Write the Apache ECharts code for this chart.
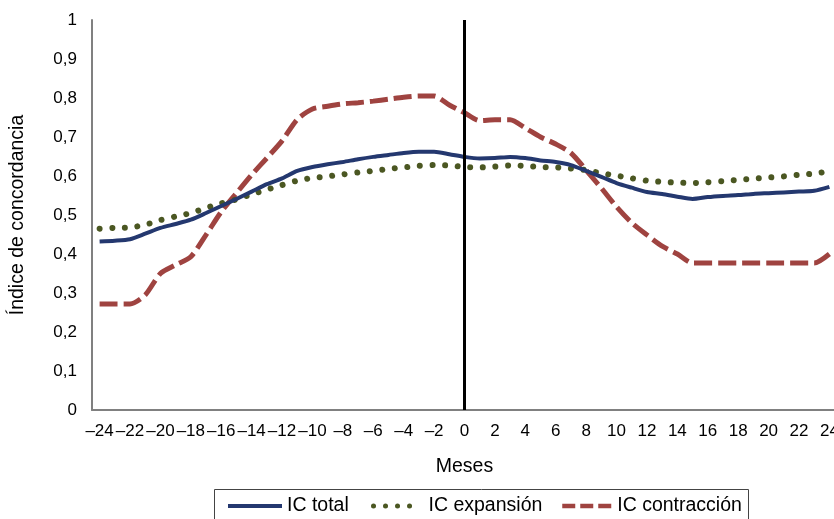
<!DOCTYPE html>
<html><head><meta charset="utf-8">
<script src="https://cdn.jsdelivr.net/npm/echarts@6/dist/echarts.min.js"></script>
<style>html,body{margin:0;padding:0;background:#fff}#c{width:834px;height:519px}</style>
</head><body><div id="c"></div>
<script>
const months = [-24,-23,-22,-21,-20,-19,-18,-17,-16,-15,-14,-13,-12,-11,-10,-9,-8,-7,-6,-5,-4,-3,-2,-1,0,1,2,3,4,5,6,7,8,9,10,11,12,13,14,15,16,17,18,19,20,21,22,23,24];
const icTotal = [0.432,0.434,0.438,0.452,0.467,0.477,0.488,0.505,0.523,0.541,0.560,0.579,0.594,0.613,0.623,0.630,0.636,0.643,0.649,0.654,0.659,0.662,0.662,0.656,0.649,0.645,0.646,0.649,0.646,0.640,0.636,0.628,0.613,0.598,0.582,0.570,0.559,0.554,0.547,0.541,0.546,0.549,0.551,0.554,0.556,0.558,0.560,0.562,0.572];
const icExpansion = [0.465,0.467,0.468,0.475,0.487,0.496,0.505,0.518,0.530,0.540,0.553,0.565,0.577,0.588,0.595,0.599,0.604,0.609,0.613,0.618,0.622,0.626,0.628,0.627,0.623,0.622,0.624,0.627,0.626,0.623,0.622,0.619,0.615,0.607,0.601,0.594,0.588,0.585,0.583,0.582,0.584,0.587,0.590,0.593,0.596,0.599,0.603,0.606,0.612];
const icContraction = [0.272,0.272,0.272,0.295,0.350,0.372,0.393,0.449,0.508,0.556,0.603,0.646,0.690,0.745,0.772,0.779,0.785,0.788,0.792,0.797,0.802,0.805,0.805,0.782,0.762,0.742,0.744,0.744,0.723,0.700,0.682,0.659,0.615,0.569,0.521,0.480,0.449,0.420,0.400,0.377,0.377,0.377,0.377,0.377,0.377,0.377,0.377,0.377,0.400];
const yTickLabels = ['0','0,1','0,2','0,3','0,4','0,5','0,6','0,7','0,8','0,9','1'];
const seriesNames = ['IC total','IC expansión','IC contracción'];

const fontFam = '"Liberation Sans", Arial, sans-serif';
const cats = months.map(m => m < 0 ? '\u2013' + Math.abs(m) : String(m));
const chart = echarts.init(document.getElementById('c'), null, {renderer:'canvas'});
const blue = '#24386f', green = '#4b5722', red = '#9f4340';
const legendText = {fontFamily: fontFam, fontSize: 19.5, color: '#000'};
const legendBase = {top: 496, itemHeight: 14, padding: 0, itemStyle: {opacity: 0}};
chart.setOption({
  animation: false,
  backgroundColor: '#fff',
  grid: {left: 92, top: 20, height: 390, width: 745, containLabel: false, outerBoundsMode: 'none'},
  xAxis: {
    type: 'category', data: cats, boundaryGap: true,
    name: 'Meses', nameLocation: 'middle', nameGap: 47,
    nameTextStyle: {fontFamily: fontFam, fontSize: 19.5, color: '#000'},
    axisLine: {lineStyle: {color: '#808080', width: 2}},
    axisTick: {show: false},
    axisLabel: {interval: 1, margin: 13, fontFamily: fontFam, fontSize: 17, color: '#000'}
  },
  yAxis: {
    type: 'value', min: 0, max: 1, interval: 0.1,
    name: 'Índice de concordancia', nameLocation: 'middle', nameGap: 64, nameRotate: 90,
    nameTextStyle: {fontFamily: fontFam, fontSize: 19.5, color: '#000'},
    axisLine: {show: true, lineStyle: {color: '#808080', width: 2}},
    axisTick: {show: false},
    splitLine: {show: false},
    axisLabel: {margin: 15, fontFamily: fontFam, fontSize: 17, color: '#000',
      formatter: v => yTickLabels[Math.round(v * 10)]}
  },
  legend: [
    Object.assign({data: [seriesNames[0]], left: 226, itemWidth: 54, textStyle: legendText,
      lineStyle: {width: 4}}, legendBase),
    Object.assign({data: [seriesNames[1]], left: 371, itemWidth: 38,
      textStyle: Object.assign({padding: [0, 0, 0, 12]}, legendText),
      lineStyle: {width: 5, type: [0.01, 12], cap: 'round'}}, legendBase),
    Object.assign({data: [seriesNames[2]], left: 560, itemWidth: 50,
      textStyle: legendText,
      lineStyle: {width: 4.5, type: [13, 5]}}, legendBase)
  ],
  graphic: [{type: 'rect', shape: {x: 214.5, y: 489.5, width: 534, height: 50},
    style: {fill: 'none', stroke: '#444', lineWidth: 1}, silent: true}],
  series: [
    {name: seriesNames[0], type: 'line', data: icTotal, symbol: 'none', smooth: 0.25,
      lineStyle: {color: blue, width: 4}, itemStyle: {color: blue}, z: 3,
      markLine: {silent: true, symbol: 'none', label: {show: false},
        lineStyle: {color: '#000', width: 3, type: 'solid'}, data: [{xAxis: '0'}]}},
    {name: seriesNames[1], type: 'line', data: icExpansion, symbol: 'none', smooth: 0.25,
      lineStyle: {color: green, width: 6, type: [0.01, 12.6], cap: 'round'}, itemStyle: {color: green}, z: 2},
    {name: seriesNames[2], type: 'line', data: icContraction, symbol: 'none', smooth: 0.25,
      lineStyle: {color: red, width: 5, type: [18, 6]}, itemStyle: {color: red}, z: 1}
  ]
});
</script></body></html>
